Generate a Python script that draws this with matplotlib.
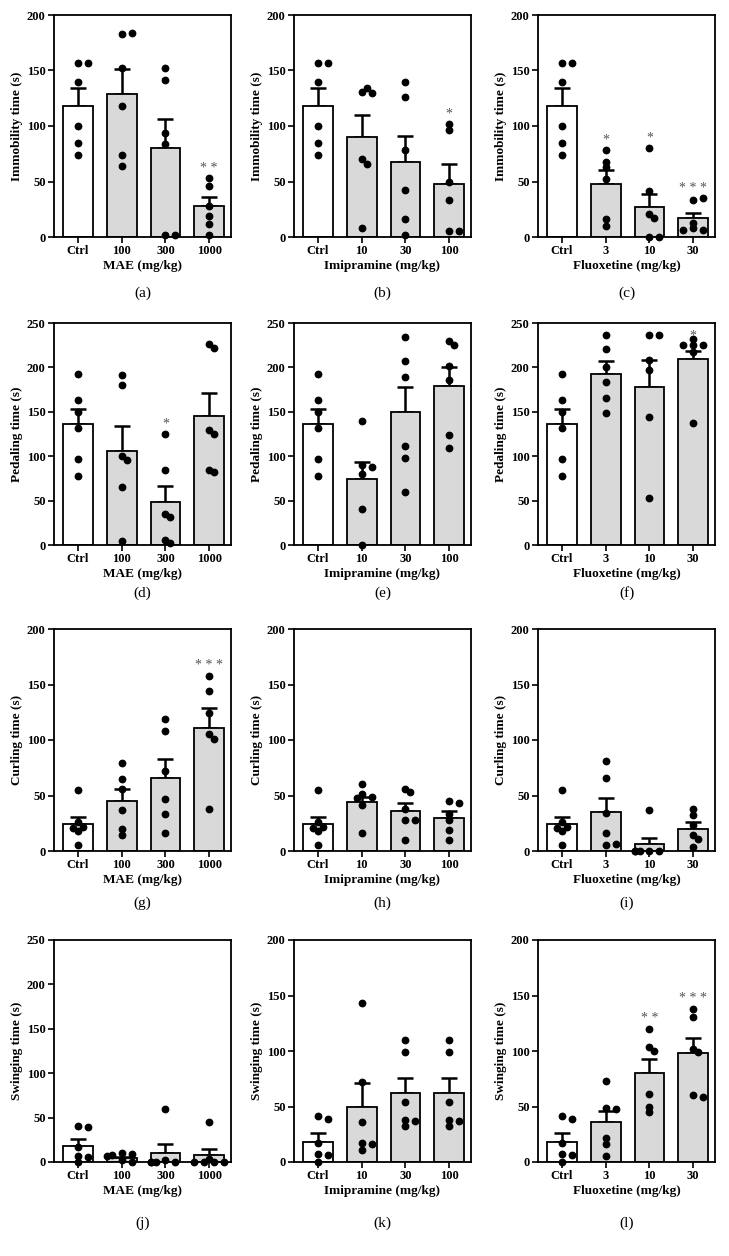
import numpy as np
import matplotlib
matplotlib.use("Agg")
import matplotlib.pyplot as plt

plt.rcParams['font.family'] = ['Liberation Serif', 'DejaVu Serif']

# x tick labels / axis labels
mae_ticks = ["Ctrl", "100", "300", "1000"]
imi_ticks = ["Ctrl", "10", "30", "100"]
flu_ticks = ["Ctrl", "3", "10", "30"]
xlabels = ["MAE (mg/kg)", "Imipramine (mg/kg)", "Fluoxetine (mg/kg)"]
ylabels = ["Immobility time (s)", "Pedaling time (s)", "Curling time (s)", "Swinging time (s)"]

# immobility
a_means = [118, 129, 80, 28]
a_sem = [16, 22, 26, 8]
a_dots = [[157, 157, 140, 100, 85, 74], [183, 184, 152, 118, 74, 64],
          [152, 141, 94, 84, 2, 2], [53, 46, 28, 19, 12, 2]]
a_stars = ["", "", "", "**"]

b_means = [118, 90, 68, 48]
b_sem = [16, 20, 23, 18]
b_dots = [[157, 157, 140, 100, 85, 74], [131, 130, 134, 70, 66, 8],
          [140, 126, 78, 42, 16, 2], [102, 96, 50, 33, 5, 5]]
b_stars = ["", "", "", "*"]

c_means = [118, 48, 27, 17]
c_sem = [16, 12, 12, 5]
c_dots = [[157, 157, 140, 100, 85, 74], [78, 68, 63, 52, 16, 10],
          [80, 41, 21, 17, 0, 0], [33, 35, 13, 8, 6, 6]]
c_stars = ["", "*", "*", "***"]

# pedaling
d_means = [136, 106, 48, 145]
d_sem = [17, 28, 19, 26]
d_dots = [[193, 163, 150, 132, 97, 78], [191, 180, 100, 96, 65, 5],
          [125, 85, 35, 32, 6, 2], [226, 222, 130, 125, 85, 82]]
d_stars = ["", "", "*", ""]

e_means = [136, 74, 150, 179]
e_sem = [17, 19, 28, 22]
e_dots = [[193, 163, 150, 132, 97, 78], [140, 90, 88, 80, 41, 0],
          [234, 207, 189, 112, 98, 60], [230, 225, 202, 186, 124, 109]]
e_stars = ["", "", "", ""]

f_means = [136, 193, 178, 210]
f_sem = [17, 14, 30, 8]
f_dots = [[193, 163, 150, 132, 97, 78], [236, 221, 201, 183, 166, 149],
          [236, 236, 208, 197, 144, 53], [232, 225, 225, 225, 217, 137]]
f_stars = ["", "", "", "*"]

# curling
g_means = [24, 45, 66, 111]
g_sem = [7, 11, 17, 18]
g_dots = [[55, 26, 22, 21, 18, 5], [79, 65, 56, 37, 20, 14],
          [119, 108, 72, 47, 33, 16], [158, 144, 124, 105, 101, 38]]
g_stars = ["", "", "", "***"]

h_means = [24, 44, 36, 30]
h_sem = [7, 5, 7, 6]
h_dots = [[55, 26, 22, 21, 18, 5], [60, 51, 49, 48, 41, 16],
          [56, 53, 38, 28, 28, 10], [45, 43, 33, 28, 19, 10]]
h_stars = ["", "", "", ""]

i_means = [24, 35, 6, 20]
i_sem = [7, 13, 6, 6]
i_dots = [[55, 26, 22, 21, 18, 5], [81, 66, 34, 16, 5, 6],
          [37, 0, 0, 0, 0, 0], [38, 32, 23, 14, 11, 4]]
i_stars = ["", "", "", ""]

# swinging
j_means = [18, 4, 10, 8]
j_sem = [8, 2, 10, 7]
j_dots = [[41, 39, 17, 7, 6, 0], [10, 9, 8, 7, 2, 0],
          [60, 2, 0, 0, 0, 0], [45, 3, 0, 0, 0, 0]]
j_stars = ["", "", "", ""]

k_means = [18, 50, 62, 62]
k_sem = [8, 21, 14, 14]
k_dots = [[41, 39, 17, 7, 6, 0], [143, 72, 36, 17, 16, 11],
          [110, 99, 54, 38, 37, 32], [110, 99, 54, 38, 37, 32]]
k_stars = ["", "", "", ""]

l_means = [18, 36, 80, 98]
l_sem = [8, 10, 13, 14]
l_dots = [[41, 39, 17, 7, 6, 0], [73, 49, 48, 22, 16, 5],
          [120, 104, 100, 61, 50, 45], [138, 131, 102, 99, 60, 59]]
l_stars = ["", "", "**", "***"]

panels = [
    (a_means, a_sem, a_dots, a_stars), (b_means, b_sem, b_dots, b_stars), (c_means, c_sem, c_dots, c_stars),
    (d_means, d_sem, d_dots, d_stars), (e_means, e_sem, e_dots, e_stars), (f_means, f_sem, f_dots, f_stars),
    (g_means, g_sem, g_dots, g_stars), (h_means, h_sem, h_dots, h_stars), (i_means, i_sem, i_dots, i_stars),
    (j_means, j_sem, j_dots, j_stars), (k_means, k_sem, k_dots, k_stars), (l_means, l_sem, l_dots, l_stars),
]
# swinging MAE panel uses a 250 axis
panel_ymax = [200, 200, 200, 250, 250, 250, 200, 200, 200, 250, 200, 200]
letters = "abcdefghijkl"
tick_sets = [mae_ticks, imi_ticks, flu_ticks]

W, H = 729, 1256
fig = plt.figure(figsize=(W / 100, H / 100), dpi=100)

col_left = [54, 294, 538]
row_top = [15, 323, 629, 940]
ax_w, ax_h = 177, 222
label_y = [293, 593, 903, 1223]
xlim = (-0.55, 3.5)


def swarm(vals, xpx, ypx, d=5.5):
    placed = []
    offs = []
    for v in vals:
        for k in [0, 1, -1, 2, -2, 3, -3]:
            dx = k * d * 0.9 / xpx
            if all(((dx - px_) * xpx) ** 2 + ((v - pv) * ypx) ** 2 >= d * d for px_, pv in placed):
                break
        placed.append((dx, v))
        offs.append(dx)
    return offs


for n, (means, sem, dots, stars) in enumerate(panels):
    r, c = divmod(n, 3)
    ymax = panel_ymax[n]
    ax = fig.add_axes([col_left[c] / W, 1 - (row_top[r] + ax_h) / H, ax_w / W, ax_h / H])
    x = np.arange(4)
    colors = ["white", "#d9d9d9", "#d9d9d9", "#d9d9d9"]
    ax.errorbar(x, means, yerr=[np.zeros(4), sem], fmt="none", ecolor="black",
                elinewidth=1.8, capsize=6, capthick=1.8, zorder=1)
    ax.bar(x, means, width=0.68, color=colors, edgecolor="black", linewidth=1.3, zorder=2)

    xpx = ax_w / (xlim[1] - xlim[0])
    ypx = ax_h / ymax
    for i in range(4):
        offs = swarm(dots[i], xpx, ypx)
        ax.plot(x[i] + np.array(offs), dots[i], "o", color="black", ms=4.6, zorder=3,
                clip_on=False)
        if stars[i]:
            ys = min(max(dots[i]) + 0.045 * ymax, 0.94 * ymax)
            ax.text(x[i], ys, " ".join(stars[i]), ha="center",
                    va="center", fontsize=10, color="#555555")

    ax.set_xlim(*xlim)
    ax.set_ylim(0, ymax)
    ax.set_yticks(np.arange(0, ymax + 1, 50))
    ax.set_xticks(x)
    ax.set_xticklabels(tick_sets[c])
    for lab in ax.get_xticklabels() + ax.get_yticklabels():
        lab.set_fontweight("bold")
        lab.set_fontsize(9)
    ax.tick_params(direction="out", length=4, width=1.2, pad=2)
    for s in ax.spines.values():
        s.set_linewidth(1.3)
    ax.set_xlabel(xlabels[c], fontsize=9.5, fontweight="bold", labelpad=2)
    ax.set_ylabel(ylabels[r], fontsize=9.5, fontweight="bold", labelpad=3)

    fig.text((col_left[c] + ax_w / 2) / W, 1 - label_y[r] / H, "(" + letters[n] + ")",
             ha="center", va="center", fontsize=11)

fig.savefig("out.png", dpi=100)
